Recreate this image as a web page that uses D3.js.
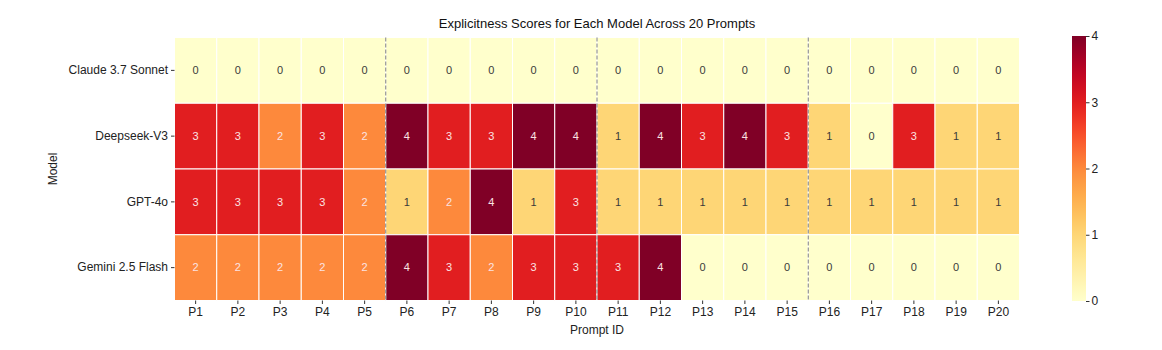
<!DOCTYPE html>
<html>
<head>
<meta charset="utf-8">
<script src="https://cdn.jsdelivr.net/npm/d3@7"></script>
<style>
body{margin:0;background:#fff;}
svg text{font-family:"Liberation Sans",Arial,sans-serif;}
</style>
</head>
<body>
<svg id="myGraph" width="1162" height="350"></svg>
<script>
var models = ["Claude 3.7 Sonnet","Deepseek-V3","GPT-4o","Gemini 2.5 Flash"];
var prompts = ["P1","P2","P3","P4","P5","P6","P7","P8","P9","P10","P11","P12","P13","P14","P15","P16","P17","P18","P19","P20"];
var claudeScores   = [0,0,0,0,0,0,0,0,0,0,0,0,0,0,0,0,0,0,0,0];
var deepseekScores = [3,3,2,3,2,4,3,3,4,4,1,4,3,4,3,1,0,3,1,1];
var gptScores      = [3,3,3,3,2,1,2,4,1,3,1,1,1,1,1,1,1,1,1,1];
var geminiScores   = [2,2,2,2,2,4,3,2,3,3,3,4,0,0,0,0,0,0,0,0];
var colorTicks = [0,1,2,3,4];
var groupBreaks = ["P6","P11","P16"];

var scores = [claudeScores,deepseekScores,gptScores,geminiScores];
var cells = [];
scores.forEach(function(row,i){
	row.forEach(function(v,j){
		cells.push({model:models[i],prompt:prompts[j],value:v});
	});
});

var svg = d3.select("#myGraph");
var plotLeft = 174.5, plotRight = 1019.5, plotTop = 37.5, plotBottom = 300.5;

var x = d3.scaleBand().domain(prompts).range([plotLeft,plotRight]);
var y = d3.scaleBand().domain(models).range([plotTop,plotBottom]);
var color = d3.scaleSequential(d3.interpolateYlOrRd).domain([0,4]);

svg.append("g").selectAll("rect")
	.data(cells)
	.enter()
	.append("rect")
	.attr("x",function(d){return x(d.prompt);})
	.attr("y",function(d){return y(d.model);})
	.attr("width",x.bandwidth())
	.attr("height",y.bandwidth())
	.attr("fill",function(d){return color(d.value);})
	.attr("stroke","#fff")
	.attr("stroke-width",1);

svg.append("g").selectAll("text")
	.data(cells)
	.enter()
	.append("text")
	.attr("x",function(d){return x(d.prompt)+x.bandwidth()/2;})
	.attr("y",function(d){return y(d.model)+y.bandwidth()/2;})
	.attr("dy","0.35em")
	.attr("text-anchor","middle")
	.attr("font-size",11)
	.attr("fill",function(d){return d.value>=2 ? "#fbe3e3" : "#3a3a3a";})
	.text(function(d){return d.value;});

// dashed separators between prompt groups
svg.append("g").selectAll("line")
	.data(groupBreaks)
	.enter()
	.append("line")
	.attr("x1",function(d){return x(d);})
	.attr("x2",function(d){return x(d);})
	.attr("y1",plotTop)
	.attr("y2",plotBottom)
	.attr("stroke","#808080")
	.attr("stroke-width",1)
	.attr("stroke-dasharray","4,2");

// axes
var xAxis = svg.append("g")
	.attr("transform","translate(0,"+plotBottom+")")
	.call(d3.axisBottom(x).tickSize(3.5).tickPadding(3));
var yAxis = svg.append("g")
	.attr("transform","translate("+plotLeft+",0)")
	.call(d3.axisLeft(y).tickSize(3.5).tickPadding(3));
[xAxis,yAxis].forEach(function(a){
	a.select(".domain").remove();
	a.selectAll(".tick line").attr("stroke","#333");
	a.selectAll(".tick text").attr("font-size",12).attr("fill","#222")
		.style("font-family","'Liberation Sans',Arial,sans-serif");
});

svg.append("text")
	.attr("x",(plotLeft+plotRight)/2)
	.attr("y",28)
	.attr("text-anchor","middle")
	.attr("font-size",13)
	.attr("fill","#111")
	.text("Explicitness Scores for Each Model Across 20 Prompts");

svg.append("text")
	.attr("x",(plotLeft+plotRight)/2)
	.attr("y",334)
	.attr("text-anchor","middle")
	.attr("font-size",12)
	.attr("fill","#222")
	.text("Prompt ID");

svg.append("text")
	.attr("transform","translate(57,"+((plotTop+plotBottom)/2)+") rotate(-90)")
	.attr("text-anchor","middle")
	.attr("font-size",12)
	.attr("fill","#222")
	.text("Model");

// colorbar
var cbLeft = 1072, cbWidth = 14, cbTop = 36, cbBottom = 301;
var defs = svg.append("defs");
var grad = defs.append("linearGradient")
	.attr("id","cbGrad")
	.attr("x1","0").attr("y1","1").attr("x2","0").attr("y2","0");
d3.range(0,1.0001,0.05).forEach(function(t){
	grad.append("stop")
		.attr("offset",t)
		.attr("stop-color",color(t*4));
});
svg.append("rect")
	.attr("x",cbLeft)
	.attr("y",cbTop)
	.attr("width",cbWidth)
	.attr("height",cbBottom-cbTop)
	.attr("fill","url(#cbGrad)");

var cScale = d3.scaleLinear().domain([0,4]).range([cbBottom,cbTop]);
var cAxis = svg.append("g")
	.attr("transform","translate("+(cbLeft+cbWidth)+",0)")
	.call(d3.axisRight(cScale).tickValues(colorTicks).tickFormat(d3.format("d")).tickSize(3.5).tickPadding(2));
cAxis.select(".domain").remove();
cAxis.selectAll(".tick line").attr("stroke","#333");
cAxis.selectAll(".tick text").attr("font-size",12).attr("fill","#222")
	.style("font-family","'Liberation Sans',Arial,sans-serif");
</script>
</body>
</html>
